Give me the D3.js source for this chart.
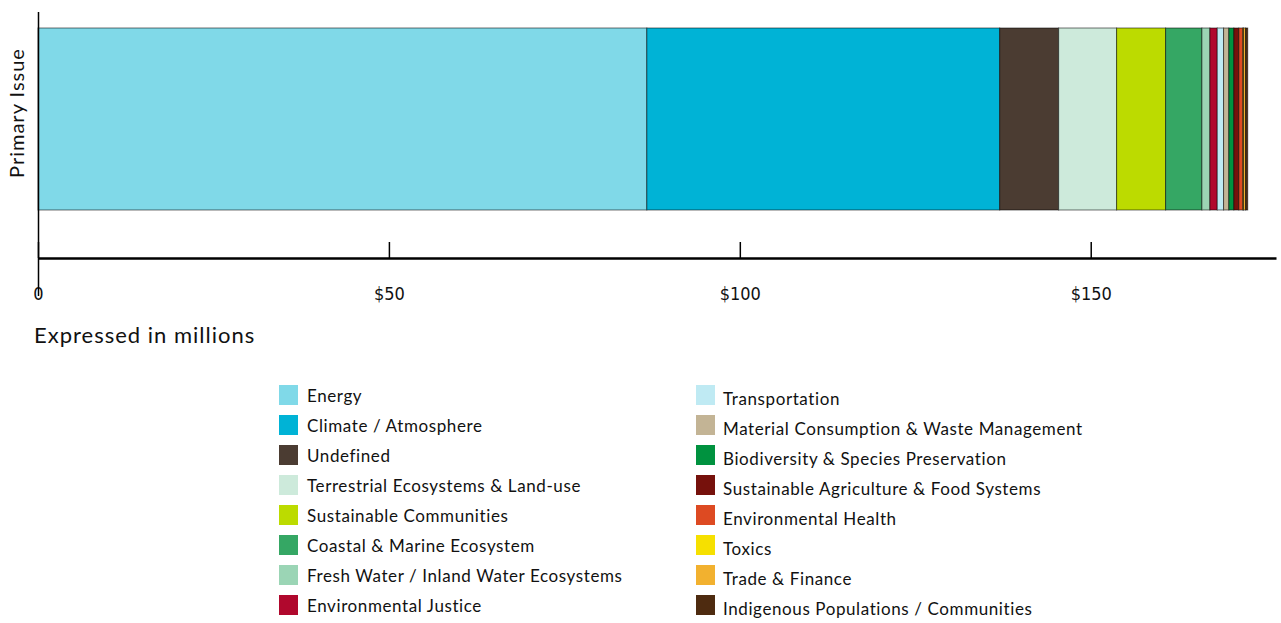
<!DOCTYPE html>
<html>
<head>
<meta charset="utf-8">
<script src="https://cdn.jsdelivr.net/npm/d3@7"></script>
<style>
  body { margin: 0; background: #fff; }
  svg { display: block; font-family: Lato, "Noto Sans", sans-serif; }
  .x.axis text { font-family: "Liberation Sans Narrow", "DejaVu Sans Condensed", sans-serif; }
</style>
</head>
<body>
<div id="chart-area"></div>
<script>
// issue names, in stacking order
const issues = [
  "Energy", "Climate / Atmosphere", "Undefined", "Terrestrial Ecosystems & Land-use",
  "Sustainable Communities", "Coastal & Marine Ecosystem", "Fresh Water / Inland Water Ecosystems",
  "Environmental Justice", "Transportation", "Material Consumption & Waste Management",
  "Biodiversity & Species Preservation", "Sustainable Agriculture & Food Systems",
  "Environmental Health", "Toxics", "Trade & Finance", "Indigenous Populations / Communities"
];

// funding per issue, in millions of dollars
const amounts = [86.75, 50.28, 8.4, 8.26, 6.98, 5.17, 1.14, 1.05, 0.9, 0.75, 0.71, 0.71, 0.57, 0.1, 0.3, 0.3];

const issueColors = [
  "#80d9e8", "#00b3d6", "#4b3c32", "#cdeadb", "#bcdb00", "#35a764", "#9bd5b5", "#b0082d",
  "#bfeaf3", "#c3b495", "#00923f", "#76110c", "#dd4a22", "#f6e000", "#f2b12f", "#4e2b10"
];

const tickValues = [0, 50, 100, 150];
const xMax = 176.4;

const width = 1281;
const height = 623;

const svg = d3.select("#chart-area")
  .append("svg")
    .attr("width", width)
    .attr("height", height);

// scales
const x = d3.scaleLinear()
  .domain([0, xMax])
  .range([38, 1276]);

const y = d3.scaleBand()
  .domain(["Primary Issue"])
  .range([28, 210]);

const color = d3.scaleOrdinal()
  .domain(issues)
  .range(issueColors);

// stack the single bar
const row = {};
issues.forEach(function(name, i) { row[name] = amounts[i]; });
const stacked = d3.stack().keys(issues)([row]);

svg.append("g")
  .selectAll("rect")
  .data(stacked)
  .enter()
  .append("rect")
    .attr("x", function(d) { return x(d[0][0]); })
    .attr("y", y("Primary Issue"))
    .attr("width", function(d) { return x(d[0][1]) - x(d[0][0]); })
    .attr("height", y.bandwidth())
    .attr("fill", function(d) { return color(d.key); })
    .attr("stroke", "#000")
    .attr("stroke-opacity", 0.55)
    .attr("stroke-width", 1);

// x axis, ticks pointing up
const xAxisCall = d3.axisBottom(x)
  .tickValues(tickValues)
  .tickSize(-16)
  .tickSizeOuter(0)
  .tickPadding(29)
  .tickFormat(function(d) { return d === 0 ? "0" : "$" + d; });

const xAxis = svg.append("g")
  .attr("class", "x axis")
  .attr("transform", "translate(0,258)")
  .call(xAxisCall);
xAxis.select(".domain").attr("stroke-width", 2.5).attr("stroke", "#000");
xAxis.selectAll(".tick line").attr("stroke", "#000").attr("stroke-width", 1.5);
xAxis.selectAll(".tick text").attr("font-size", "18px").attr("fill", "#111");

// y axis line
svg.append("line")
  .attr("x1", 38.5).attr("x2", 38.5)
  .attr("y1", 12).attr("y2", 296)
  .attr("stroke", "#000")
  .attr("stroke-width", 1.5);

// labels
svg.append("text")
  .attr("transform", "translate(24,113) rotate(-90)")
  .attr("text-anchor", "middle")
  .attr("font-size", "20px")
  .attr("letter-spacing", "1px")
  .attr("fill", "#111")
  .text("Primary Issue");

svg.append("text")
  .attr("x", 34)
  .attr("y", 343)
  .attr("font-size", "22px")
  .attr("letter-spacing", "1px")
  .attr("fill", "#111")
  .text("Expressed in millions");

// legend in two columns of eight
const legend = svg.append("g");
issues.forEach(function(name, i) {
  const col = Math.floor(i / 8);
  const r = i % 8;
  const legendRow = legend.append("g")
    .attr("transform", "translate(" + (col === 0 ? 279 : 696) + "," + (385 + r * 30) + ")");

  legendRow.append("rect")
    .attr("width", 19)
    .attr("height", 20)
    .attr("fill", color(name));

  legendRow.append("text")
    .attr("x", col === 0 ? 28 : 27)
    .attr("y", col === 0 ? 17 : 20)
    .attr("font-size", "17px")
    .attr("letter-spacing", "0.6px")
    .attr("fill", "#111")
    .text(name);
});
</script>
</body>
</html>
